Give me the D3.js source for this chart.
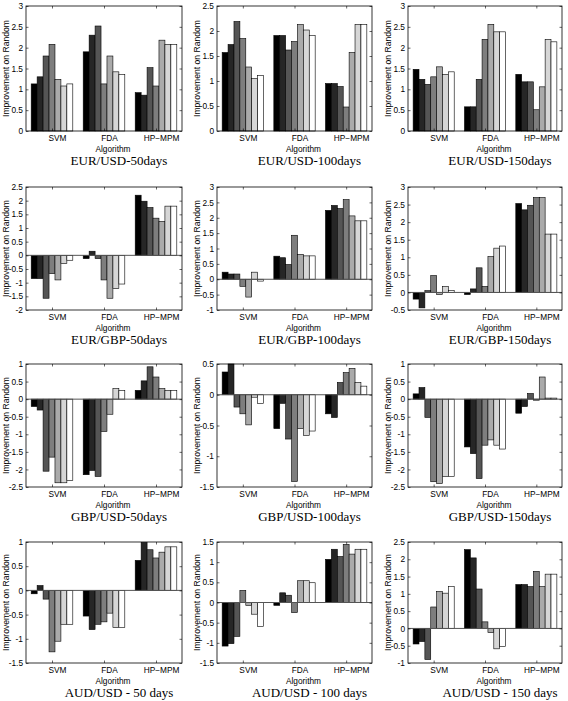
<!DOCTYPE html>
<html><head><meta charset="utf-8">
<script src="https://cdn.jsdelivr.net/npm/d3@7"></script>
<style>
body{margin:0;background:#fff;}
svg{display:block;}
.tick text{font-family:"Liberation Sans",Arial,sans-serif;font-size:8.3px;fill:#000;}
</style></head>
<body>
<svg id="chart" width="568" height="701"></svg>
<script>
// ---- data ----
const groups = ["SVM", "FDA", "HP\u2212MPM"];
const seriesColors = ["#000000", "#262626", "#555555", "#7e7e7e", "#aaaaaa", "#d6d6d6", "#ffffff"];
const titles = [
  "EUR/USD-50days", "EUR/USD-100days", "EUR/USD-150days",
  "EUR/GBP-50days", "EUR/GBP-100days", "EUR/GBP-150days",
  "GBP/USD-50days", "GBP/USD-100days", "GBP/USD-150days",
  "AUD/USD - 50 days", "AUD/USD - 100 days", "AUD/USD - 150 days"
];
const yDomains = [
  [0, 3], [0, 2.5], [0, 3],
  [-2, 2.5], [-1, 3], [-0.5, 3],
  [-2.5, 1], [-1.5, 0.5], [-2.5, 1],
  [-1.5, 1], [-1.5, 1.5], [-1, 2.5]
];
const tickStep = 0.5;

const eurUsd50 = [
  [1.13, 1.30, 1.80, 2.08, 1.24, 1.08, 1.13],
  [1.90, 2.30, 2.52, 1.13, 1.80, 1.42, 1.36],
  [0.92, 0.86, 1.52, 1.08, 2.18, 2.08, 2.08]
];
const eurUsd100 = [
  [1.57, 1.73, 2.19, 1.85, 1.28, 1.05, 1.11],
  [1.91, 1.91, 1.62, 1.79, 2.13, 2.02, 1.91],
  [0.95, 0.95, 0.89, 0.48, 1.57, 2.13, 2.13]
];
const eurUsd150 = [
  [1.48, 1.24, 1.12, 1.30, 1.54, 1.36, 1.42],
  [0.58, 0.58, 1.24, 2.20, 2.56, 2.38, 2.38],
  [1.36, 1.18, 1.18, 0.51, 1.06, 2.20, 2.14]
];
const eurGbp50 = [
  [-0.85, -0.85, -1.57, -0.67, -0.90, -0.30, -0.18],
  [-0.12, 0.15, -0.12, -0.90, -1.57, -1.22, -1.05],
  [2.20, 1.98, 1.75, 1.36, 1.24, 1.80, 1.80]
];
const eurGbp100 = [
  [0.23, 0.17, 0.17, -0.23, -0.58, 0.23, -0.06],
  [0.75, 0.70, 0.48, 1.43, 0.81, 0.76, 0.76],
  [2.24, 2.40, 2.30, 2.59, 2.06, 1.90, 1.90]
];
const eurGbp150 = [
  [-0.19, -0.44, 0.05, 0.48, -0.06, 0.17, 0.06],
  [-0.06, 0.10, 0.70, 0.17, 1.02, 1.26, 1.32],
  [2.53, 2.35, 2.48, 2.70, 2.70, 1.66, 1.66]
];
const gbpUsd50 = [
  [-0.21, -0.31, -2.05, -1.65, -2.38, -2.38, -2.31],
  [-2.15, -2.03, -2.20, -0.92, -0.43, 0.30, 0.25],
  [0.25, 0.52, 0.92, 0.63, 0.30, 0.25, 0.25]
];
const gbpUsd100 = [
  [0.37, 0.50, -0.20, -0.31, -0.49, -0.04, -0.14],
  [-0.55, -0.14, -0.72, -1.41, -0.55, -0.66, -0.59],
  [-0.31, -0.37, 0.20, 0.36, 0.43, 0.20, 0.14]
];
const gbpUsd150 = [
  [0.15, 0.33, -0.52, -2.35, -2.40, -2.20, -2.20],
  [-1.36, -1.55, -2.26, -1.31, -1.16, -1.31, -1.42],
  [-0.40, -0.21, 0.16, -0.03, 0.63, 0.03, 0.03]
];
const audUsd50 = [
  [-0.07, 0.10, -0.18, -1.27, -1.05, -0.70, -0.70],
  [-0.53, -0.81, -0.70, -0.65, -0.47, -0.77, -0.77],
  [0.62, 0.99, 0.84, 0.67, 0.79, 0.90, 0.90]
];
const audUsd100 = [
  [-1.08, -1.02, -0.84, 0.30, -0.07, -0.29, -0.59],
  [-0.07, 0.24, 0.18, -0.25, 0.54, 0.54, 0.49],
  [1.07, 1.32, 1.14, 1.44, 1.20, 1.32, 1.32]
];
const audUsd150 = [
  [-0.45, -0.38, -0.90, 0.62, 1.07, 1.02, 1.21],
  [2.28, 2.04, 1.14, 0.19, -0.12, -0.59, -0.52],
  [1.27, 1.27, 1.21, 1.65, 1.21, 1.57, 1.57]
];
const panelData = [eurUsd50, eurUsd100, eurUsd150, eurGbp50, eurGbp100, eurGbp150,
                   gbpUsd50, gbpUsd100, gbpUsd150, audUsd50, audUsd100, audUsd150];

// ---- layout ----
const colLeft = [26, 217, 408], colRight = [182, 372, 562];
const rowTop = [6, 187, 364, 542], rowBottom = [131, 310, 487, 663];
const groupWidth = 0.8;

const svg = d3.select("#chart");
const sans = "'Liberation Sans', Arial, sans-serif";
const serif = "'Liberation Serif', 'Times New Roman', serif";

panelData.forEach((data, i) => {
  const r = Math.floor(i / 3), c = i % 3;
  const L = colLeft[c], R = colRight[c], T = rowTop[r], B = rowBottom[r];
  const x = d3.scaleLinear().domain([0.5, 3.5]).range([L, R]);
  const y = d3.scaleLinear().domain(yDomains[i]).range([B, T]);
  const nS = data[0].length;
  const bw = groupWidth / nS;
  const g = svg.append("g");

  // bars
  data.forEach((vals, gi) => {
    vals.forEach((v, k) => {
      const x0 = x(gi + 1 - groupWidth / 2 + k * bw);
      const x1 = x(gi + 1 - groupWidth / 2 + (k + 1) * bw);
      g.append("rect")
        .attr("x", x0).attr("width", x1 - x0)
        .attr("y", y(Math.max(0, v))).attr("height", Math.abs(y(v) - y(0)))
        .attr("fill", seriesColors[k])
        .attr("stroke", "#000").attr("stroke-width", 0.6);
    });
  });

  // zero baseline
  if (yDomains[i][0] < 0) {
    g.append("line").attr("x1", L).attr("x2", R).attr("y1", y(0)).attr("y2", y(0))
      .attr("stroke", "#555").attr("stroke-width", 1);
  }

  const ticks = d3.range(yDomains[i][0], yDomains[i][1] + 1e-9, tickStep).map(d => +d.toFixed(2));
  // left axis
  const ax = g.append("g").attr("transform", `translate(${L},0)`)
    .call(d3.axisLeft(y).tickValues(ticks).tickSize(-2.5).tickPadding(3).tickFormat(d => String(d)));
  ax.select(".domain").remove();
  ax.selectAll(".tick line").attr("stroke", "#000").attr("stroke-width", 0.6);
  // right ticks
  const axr = g.append("g").attr("transform", `translate(${R},0)`)
    .call(d3.axisRight(y).tickValues(ticks).tickSize(-2.5).tickFormat(""));
  axr.select(".domain").remove();
  axr.selectAll(".tick line").attr("stroke", "#000").attr("stroke-width", 0.6);
  // bottom axis with group labels
  const axb = g.append("g").attr("transform", `translate(0,${B})`)
    .call(d3.axisBottom(x).tickValues([1, 2, 3]).tickSize(-2.5).tickPadding(4).tickFormat((d, j) => groups[j]));
  axb.select(".domain").remove();
  axb.selectAll(".tick line").attr("stroke", "#000").attr("stroke-width", 0.6);
  axb.selectAll(".tick text").attr("dx", 5);
  const axt = g.append("g").attr("transform", `translate(0,${T})`)
    .call(d3.axisTop(x).tickValues([1, 2, 3]).tickSize(-2.5).tickFormat(""));
  axt.select(".domain").remove();
  axt.selectAll(".tick line").attr("stroke", "#000").attr("stroke-width", 0.6);

  // box
  g.append("rect").attr("x", L).attr("y", T).attr("width", R - L).attr("height", B - T)
    .attr("fill", "none").attr("stroke", "#000").attr("stroke-width", 0.8);

  // axis labels
  g.append("text").attr("x", (L + R) / 2 + 9).attr("y", B + 21)
    .attr("text-anchor", "middle").style("font-family", sans).style("font-size", "8.3px")
    .text("Algorithm");
  g.append("text")
    .attr("transform", `translate(${L - 17},${(T + B) / 2}) rotate(-90)`)
    .attr("text-anchor", "middle").style("font-family", sans).style("font-size", "8.6px")
    .text("Improvement on Random");
  // title
  g.append("text").attr("x", (L + R) / 2 + 15).attr("y", B + 34)
    .attr("text-anchor", "middle").style("font-family", serif).style("font-size", "13px")
    .text(titles[i]);
});
</script>
</body></html>
